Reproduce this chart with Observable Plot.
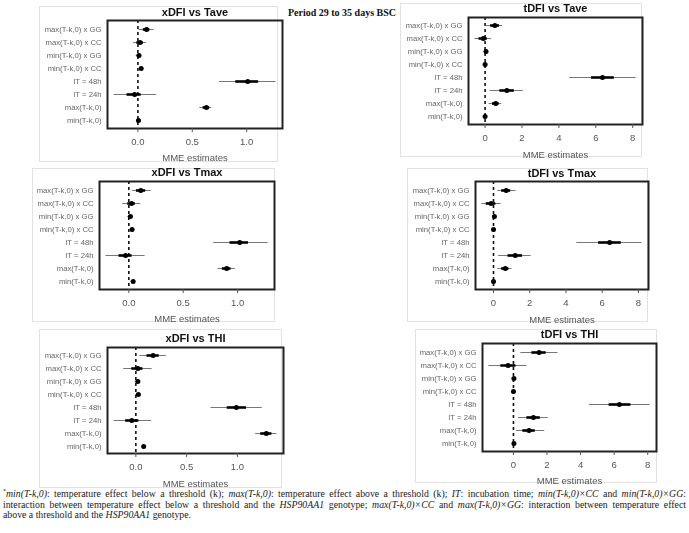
<!DOCTYPE html>
<html><head><meta charset="utf-8">
<script src="https://cdn.jsdelivr.net/npm/d3@7"></script>
<script src="https://cdn.jsdelivr.net/npm/@observablehq/plot@0.6"></script>
<style>
body{margin:0;background:#fff;}
#root{position:relative;width:689px;height:533px;overflow:hidden;font-family:"Liberation Sans",Arial,sans-serif;}
.box{position:absolute;border:1px solid #e2e2e2;box-sizing:border-box;}
.plot{position:absolute;will-change:transform;}
.plot svg{overflow:visible;}
#period{position:absolute;left:242px;top:7px;width:200px;text-align:center;font-family:"Liberation Serif","Times New Roman",serif;font-weight:bold;font-size:10px;color:#111;white-space:nowrap;}
#caption{position:absolute;left:3px;top:489px;width:683px;font-family:"Liberation Serif","Times New Roman",serif;font-size:9.8px;line-height:10.7px;color:#222;}
#caption .j{text-align:justify;text-align-last:justify;white-space:nowrap;}
#caption sup{font-size:6px;line-height:0;vertical-align:4px;}
</style>
</head><body>
<div id="root">
  <div id="period">Period 29 to 35 days BSC</div>
  <div id="caption">
    <div class="j"><sup>*</sup><i>min(T-k,0)</i>: temperature effect below a threshold (k); <i>max(T-k,0)</i>: temperature effect above a threshold (k); <i>IT</i>: incubation time; <i>min(T-k,0)×CC</i> and <i>min(T-k,0)×GG</i>:</div>
    <div class="j">interaction between temperature effect below a threshold and the <i>HSP90AA1</i> genotype; <i>max(T-k,0)×CC</i> and <i>max(T-k,0)×GG</i>: interaction between temperature effect</div>
    <div>above a threshold and the <i>HSP90AA1</i> genotype.</div>
  </div>
</div>
<script>
// Terms, top to bottom
const terms = ["max(T-k,0) x GG","max(T-k,0) x CC","min(T-k,0) x GG","min(T-k,0) x CC","IT = 48h","IT = 24h","max(T-k,0)","min(T-k,0)"];

// Panel titles
const titles = ["xDFI vs Tave","tDFI vs Tave","xDFI vs Tmax","tDFI vs Tmax","xDFI vs THI","tDFI vs THI"];

// x tick values
const xTicksX = [0, 0.5, 1.0];
const xTicksT = [0, 2, 4, 6, 8];

// xDFI vs Tave
const xTave_est  = [0.08, 0.02, 0.01, 0.03, 1.01, -0.03, 0.63, 0.005];
const xTave_lo   = [0.05, -0.01, -0.005, 0.015, 0.90, -0.10, 0.60, -0.005];
const xTave_hi   = [0.11, 0.05, 0.025, 0.045, 1.11, 0.03, 0.66, 0.015];
const xTave_lo95 = [0.01, -0.04, -0.015, 0.005, 0.75, -0.22, 0.57, -0.01];
const xTave_hi95 = [0.15, 0.08, 0.035, 0.055, 1.27, 0.17, 0.68, 0.02];

// tDFI vs Tave
const tTave_est  = [0.53, -0.10, 0.05, 0.00, 6.36, 1.18, 0.58, 0.00];
const tTave_lo   = [0.30, -0.33, 0.00, -0.05, 5.77, 0.80, 0.40, -0.03];
const tTave_hi   = [0.78, 0.12, 0.10, 0.05, 7.00, 1.58, 0.76, 0.03];
const tTave_lo95 = [0.05, -0.55, -0.05, -0.10, 4.58, 0.27, 0.22, -0.06];
const tTave_hi95 = [0.95, 0.36, 0.15, 0.10, 8.18, 2.07, 0.90, 0.06];

// xDFI vs Tmax
const xTmax_est  = [0.11, 0.025, 0.015, 0.03, 1.02, -0.03, 0.90, 0.04];
const xTmax_lo   = [0.07, -0.01, 0.00, 0.015, 0.93, -0.09, 0.86, 0.03];
const xTmax_hi   = [0.155, 0.06, 0.03, 0.045, 1.10, 0.03, 0.94, 0.05];
const xTmax_lo95 = [0.035, -0.055, -0.01, 0.005, 0.78, -0.21, 0.82, 0.02];
const xTmax_hi95 = [0.205, 0.11, 0.04, 0.055, 1.28, 0.15, 0.98, 0.06];

// tDFI vs Tmax
const tTmax_est  = [0.70, -0.13, 0.05, 0.00, 6.41, 1.20, 0.65, 0.00];
const tTmax_lo   = [0.45, -0.40, 0.00, -0.05, 5.80, 0.80, 0.45, -0.03];
const tTmax_hi   = [0.95, 0.13, 0.10, 0.05, 7.05, 1.60, 0.85, 0.03];
const tTmax_lo95 = [0.24, -0.64, -0.05, -0.10, 4.60, 0.28, 0.24, -0.06];
const tTmax_hi95 = [1.24, 0.42, 0.15, 0.10, 8.20, 2.08, 1.02, 0.06];

// xDFI vs THI
const xTHI_est  = [0.17, 0.02, 0.02, 0.025, 0.99, -0.04, 1.285, 0.077];
const xTHI_lo   = [0.11, -0.04, 0.005, 0.01, 0.90, -0.10, 1.23, 0.067];
const xTHI_hi   = [0.23, 0.07, 0.035, 0.04, 1.09, 0.03, 1.34, 0.087];
const xTHI_lo95 = [0.04, -0.12, -0.005, 0.00, 0.74, -0.215, 1.18, 0.06];
const xTHI_hi95 = [0.30, 0.16, 0.045, 0.05, 1.245, 0.155, 1.39, 0.095];

// tDFI vs THI
const tTHI_est  = [1.53, -0.32, 0.03, 0.00, 6.31, 1.19, 0.93, 0.03];
const tTHI_lo   = [1.10, -0.75, -0.03, -0.05, 5.70, 0.80, 0.56, 0.00];
const tTHI_hi   = [1.95, 0.15, 0.09, 0.05, 7.00, 1.60, 1.30, 0.06];
const tTHI_lo95 = [0.44, -1.46, -0.08, -0.10, 4.52, 0.30, 0.18, -0.03];
const tTHI_hi95 = [2.66, 0.80, 0.14, 0.10, 8.14, 2.07, 1.87, 0.09];

// layout (pixels): light box [l,t,r,b], plot frame [l,t,r,b], title centre y, x-label centre y
const layouts = [
  {box:[39,6,278,162],   frame:[107,20,282,128], title:12,  xlab:157},
  {box:[400,3,642,157],  frame:[468,17,642,124], title:8,   xlab:154},
  {box:[32,168,275,322], frame:[99,181,274,289], title:172, xlab:318},
  {box:[407,168,648,322],frame:[475,181,648,289],title:173, xlab:319},
  {box:[39,329,282,488], frame:[107,347,283,453],title:338, xlab:483},
  {box:[415,329,657,483],frame:[482,343,656,451],title:334, xlab:480}
];

const panels = [
  {title:titles[0], est:xTave_est, lo:xTave_lo, hi:xTave_hi, lo95:xTave_lo95, hi95:xTave_hi95, ticks:xTicksX, fmt:d3.format(".1f")},
  {title:titles[1], est:tTave_est, lo:tTave_lo, hi:tTave_hi, lo95:tTave_lo95, hi95:tTave_hi95, ticks:xTicksT, fmt:d3.format("d")},
  {title:titles[2], est:xTmax_est, lo:xTmax_lo, hi:xTmax_hi, lo95:xTmax_lo95, hi95:xTmax_hi95, ticks:xTicksX, fmt:d3.format(".1f")},
  {title:titles[3], est:tTmax_est, lo:tTmax_lo, hi:tTmax_hi, lo95:tTmax_lo95, hi95:tTmax_hi95, ticks:xTicksT, fmt:d3.format("d")},
  {title:titles[4], est:xTHI_est, lo:xTHI_lo, hi:xTHI_hi, lo95:xTHI_lo95, hi95:xTHI_hi95, ticks:xTicksX, fmt:d3.format(".1f")},
  {title:titles[5], est:tTHI_est, lo:tTHI_lo, hi:tTHI_hi, lo95:tTHI_lo95, hi95:tTHI_hi95, ticks:xTicksT, fmt:d3.format("d")}
];

const root = document.getElementById("root");

panels.forEach((p, k) => {
  const L = layouts[k];
  const rows = terms.map((t, i) => ({term:t, est:p.est[i], lo:p.lo[i], hi:p.hi[i], lo95:p.lo95[i], hi95:p.hi95[i]}));
  const mn = d3.min(p.lo95), mx = d3.max(p.hi95), ext = (mx - mn) * 0.04;

  const box = document.createElement("div");
  box.className = "box";
  box.style.left = L.box[0] + "px"; box.style.top = L.box[1] + "px";
  box.style.width = (L.box[2] - L.box[0]) + "px"; box.style.height = (L.box[3] - L.box[1]) + "px";
  root.appendChild(box);

  const left = L.box[0], top = L.box[1];
  const W = Math.max(L.box[2], L.frame[2] + 3) - left;
  const H = L.box[3] - top;

  const chart = Plot.plot({
    width: W, height: H,
    marginLeft: L.frame[0] - left,
    marginTop: L.frame[1] - top,
    marginRight: W - (L.frame[2] - left),
    marginBottom: H - (L.frame[3] - top),
    style: {fontFamily: '"Liberation Sans", Arial, sans-serif', background: "transparent", overflow: "visible"},
    x: {domain: [mn - ext, mx + ext]},
    y: {type: "point", domain: terms, padding: 0.4},
    marks: [
      Plot.ruleX([0], {stroke: "#111", strokeWidth: 1.6, strokeDasharray: "3,3"}),
      Plot.ruleY(rows, {y: "term", x1: "lo95", x2: "hi95", stroke: "#777", strokeWidth: 1}),
      Plot.ruleY(rows, {y: "term", x1: "lo", x2: "hi", stroke: "#000", strokeWidth: 2.6}),
      Plot.dot(rows, {x: "est", y: "term", r: 2.5, fill: "#000", stroke: "none"}),
      Plot.frame({stroke: "#222", strokeWidth: 2}),
      Plot.axisX({ticks: p.ticks, tickFormat: p.fmt, tickSize: 4, tickPadding: 6, fontSize: 9.5, color: "#555", label: null}),
      Plot.axisY({tickSize: 0, tickPadding: 6, fontSize: 7.7, color: "#666", label: null}),
      Plot.text([p.title], {frameAnchor: "top", lineAnchor: "middle", dy: L.title - L.frame[1], fontWeight: "bold", fontSize: 11, fill: "#111"}),
      Plot.text(["MME estimates"], {frameAnchor: "bottom", lineAnchor: "middle", dy: L.xlab - L.frame[3], fontSize: 9.5, fill: "#555"})
    ]
  });
  const wrap = document.createElement("div");
  wrap.className = "plot";
  wrap.style.left = left + "px"; wrap.style.top = top + "px";
  wrap.appendChild(chart);
  root.appendChild(wrap);
});
</script>
</body></html>
